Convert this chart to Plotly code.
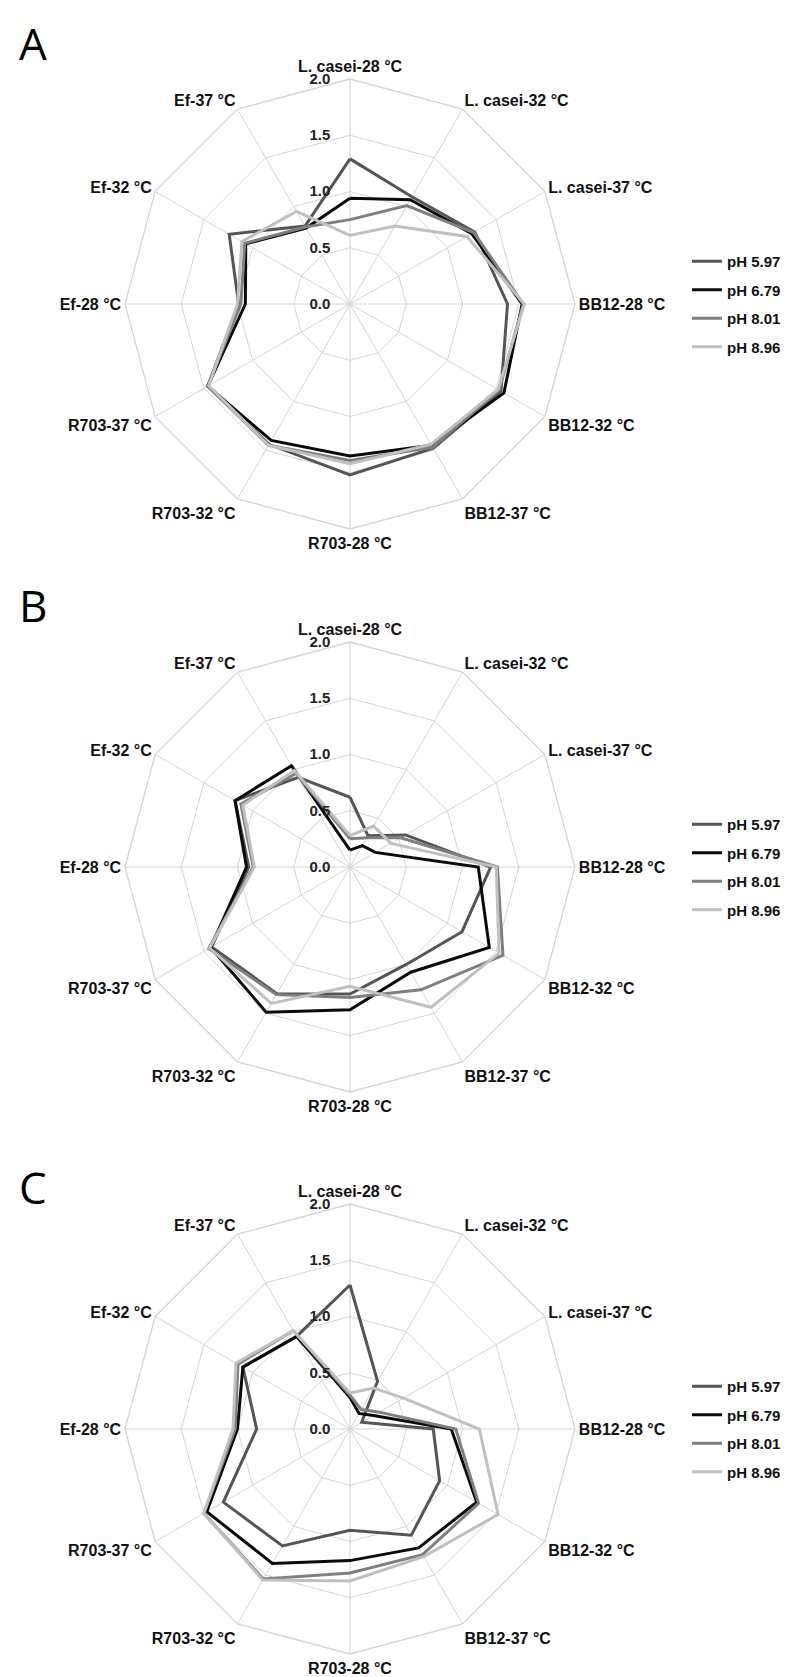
import plotly.graph_objects as go

categories = ["L. casei-28 °C", "L. casei-32 °C", "L. casei-37 °C", "BB12-28 °C",
              "BB12-32 °C", "BB12-37 °C", "R703-28 °C", "R703-32 °C",
              "R703-37 °C", "Ef-28 °C", "Ef-32 °C", "Ef-37 °C"]
series_names = ["pH 5.97", "pH 6.79", "pH 8.01", "pH 8.96"]
series_colors = ["#555555", "#0a0a0a", "#7f7f7f", "#c0c0c0"]
panel_labels = ["A", "B", "C"]
radial_ticks = [0.0, 0.5, 1.0, 1.5, 2.0]

# Panel A
a_ph597 = [1.29, 1.10, 1.28, 1.40, 1.55, 1.48, 1.52, 1.44, 1.46, 0.99, 1.24, 0.80]
a_ph679 = [0.94, 1.07, 1.25, 1.53, 1.58, 1.45, 1.35, 1.40, 1.46, 0.93, 1.07, 0.78]
a_ph801 = [0.75, 1.01, 1.27, 1.54, 1.53, 1.47, 1.39, 1.45, 1.46, 0.97, 1.08, 0.79]
a_ph896 = [0.61, 0.80, 1.20, 1.55, 1.52, 1.44, 1.42, 1.45, 1.45, 1.00, 1.11, 0.95]
# Panel B
b_ph597 = [0.62, 0.32, 0.57, 1.25, 1.15, 1.00, 1.13, 1.30, 1.42, 0.90, 1.18, 0.92]
b_ph679 = [0.15, 0.22, 0.26, 1.14, 1.43, 1.08, 1.27, 1.49, 1.43, 0.92, 1.18, 1.04]
b_ph801 = [0.25, 0.30, 0.52, 1.31, 1.57, 1.26, 1.16, 1.31, 1.45, 0.86, 1.12, 0.96]
b_ph896 = [0.28, 0.42, 0.42, 1.30, 1.53, 1.44, 1.06, 1.40, 1.44, 0.85, 1.10, 0.99]
# Panel C
c_ph597 = [1.28, 0.49, 0.12, 0.74, 0.92, 1.09, 0.90, 1.20, 1.30, 0.83, 1.10, 0.95]
c_ph679 = [0.28, 0.16, 0.24, 0.90, 1.30, 1.22, 1.17, 1.38, 1.47, 1.00, 1.10, 0.95]
c_ph801 = [0.30, 0.20, 0.30, 0.94, 1.32, 1.29, 1.28, 1.54, 1.50, 1.02, 1.15, 1.01]
c_ph896 = [0.32, 0.42, 0.55, 1.15, 1.52, 1.31, 1.35, 1.55, 1.50, 1.04, 1.17, 1.01]

panels = [
    [a_ph597, a_ph679, a_ph801, a_ph896],
    [b_ph597, b_ph679, b_ph801, b_ph896],
    [c_ph597, c_ph679, c_ph801, c_ph896],
]

W, H = 792, 1677
cx = 342
centers_y = [296, 859, 1421]
letter_top = [3, 565, 1147]
R = 225

LABEL_FONT = "Liberation Sans, Arial, sans-serif"
GRID = "#d4d4d4"
CLEAR = "rgba(0,0,0,0)"

fig = go.Figure()
layout_upd = {}
for p, (vals_list, cy) in enumerate(zip(panels, centers_y)):
    pname = "polar" if p == 0 else f"polar{p+1}"
    lname = "legend" if p == 0 else f"legend{p+1}"
    for name, vals, col in zip(series_names, vals_list, series_colors):
        fig.add_trace(go.Scatterpolar(
            r=vals + vals[:1], theta=categories + categories[:1],
            mode="lines", name=name, line=dict(color=col, width=3),
            subplot=pname, legend=lname, legendgroup=f"{p}-{name}", showlegend=True))
    yc = 1 - cy / H
    layout_upd[pname] = dict(
        domain=dict(x=[(cx - R) / W, (cx + R) / W], y=[yc - R / H, yc + R / H]),
        gridshape="linear", bgcolor="white",
        radialaxis=dict(range=[0, 2], tickvals=radial_ticks,
                        ticktext=[f"{v:.1f}" for v in radial_ticks],
                        angle=90, tickangle=90, side="counterclockwise",
                        showline=False, ticks="outside", ticklen=14, tickcolor=CLEAR,
                        gridcolor=GRID, gridwidth=1.3,
                        tickfont=dict(family=LABEL_FONT, size=15, color="#222222", weight="bold")),
        angularaxis=dict(direction="clockwise", rotation=90, categoryorder="array",
                         categoryarray=categories, gridcolor=GRID, gridwidth=1.3,
                         linecolor=GRID, linewidth=1.3, showline=True, ticks="",
                         tickfont=dict(family=LABEL_FONT, size=16, color="#111111", weight="bold")),
    )
    layout_upd[lname] = dict(
        x=679 / W, y=yc, xanchor="left", yanchor="middle",
        bgcolor=CLEAR, itemwidth=30, tracegroupgap=6,
        font=dict(family=LABEL_FONT, size=15, color="#111111", weight="bold"))
    fig.add_annotation(text=panel_labels[p], x=25 / W, y=1 - letter_top[p] / H,
                       xref="paper", yref="paper", showarrow=False,
                       xanchor="center", yanchor="top",
                       font=dict(family="Open Sans, Noto Sans, sans-serif", size=44, color="#000000"))

fig.update_layout(width=W, height=H, margin=dict(l=0, r=0, t=0, b=0),
                  paper_bgcolor="white", plot_bgcolor="white", **layout_upd)
fig.write_html("out.html")
